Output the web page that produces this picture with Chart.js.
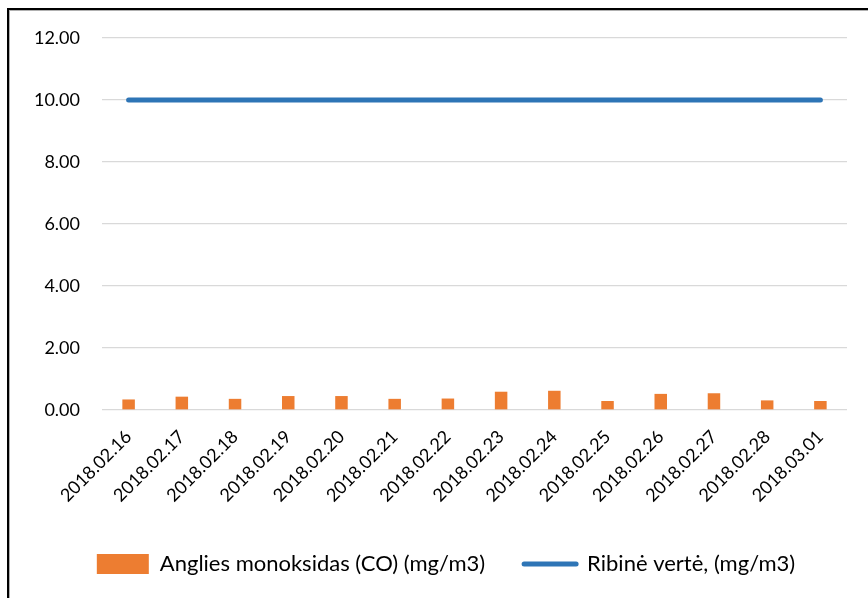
<!DOCTYPE html>
<html>
<head>
<meta charset="utf-8">
<script src="https://cdn.jsdelivr.net/npm/chart.js@4.4.1/dist/chart.umd.min.js"></script>
<style>
  html, body { margin: 0; padding: 0; background: #fff; }
  body { width: 868px; height: 598px; position: relative; overflow: hidden; }
  #frame {
    position: absolute; left: 7px; top: 8px; width: 900px; height: 700px;
    border: 2px solid #000; box-shadow: inset 1px 1px 0 #b0b0b0;
  }
  #wrap { position: absolute; left: 0; top: 0; width: 868px; height: 598px; }
</style>
</head>
<body>
<div id="frame"></div>
<div id="wrap"><canvas id="chart"></canvas></div>
<script>
// --- data ---
const dates = ['2018.02.16', '2018.02.17', '2018.02.18', '2018.02.19', '2018.02.20', '2018.02.21', '2018.02.22',
               '2018.02.23', '2018.02.24', '2018.02.25', '2018.02.26', '2018.02.27', '2018.02.28', '2018.03.01'];
const coValues = [0.34, 0.43, 0.36, 0.45, 0.45, 0.36, 0.37, 0.59, 0.62, 0.29, 0.52, 0.54, 0.31, 0.29];
const limitValues = [10, 10, 10, 10, 10, 10, 10, 10, 10, 10, 10, 10, 10, 10];
const yTicks = [0, 2, 4, 6, 8, 10, 12];

const FAMILY = 'Lato, "Open Sans", sans-serif';

// legend sits a bit right of the canvas centre in the original
const legendShift = {
    id: 'legendShift',
    afterLayout(chart) {
        if (chart.legend) chart.legend.left += 45;
    }
};

new Chart(document.getElementById('chart'), {
    data: {
        labels: dates,
        datasets: [
            {
                type: 'bar',
                label: 'Anglies monoksidas (CO) (mg/m3)',
                data: coValues,
                backgroundColor: '#ED7D31',
                categoryPercentage: 1,
                barPercentage: 0.235,
                order: 2
            },
            {
                type: 'line',
                label: 'Ribinė vertė, (mg/m3)',
                data: limitValues,
                borderColor: '#2E75B6',
                borderWidth: 5,
                borderCapStyle: 'round',
                pointRadius: 0,
                fill: false,
                order: 1
            }
        ]
    },
    plugins: [legendShift],
    options: {
        responsive: true,
        maintainAspectRatio: false,
        animation: false,
        layout: { padding: { left: 0, right: 21, top: 38, bottom: 13 } },
        scales: {
            x: {
                grid: { display: false },
                border: { display: false },
                ticks: {
                    color: '#000', font: { family: FAMILY, size: 18 }, autoSkip: false,
                    minRotation: 45, maxRotation: 45, padding: 8
                },
                afterFit(scale) { scale.height = 104; }
            },
            y: {
                min: 0, max: 12,
                grid: { color: '#d9d9d9', lineWidth: 1.3, drawTicks: false },
                border: { display: false },
                afterBuildTicks(scale) { scale.ticks = yTicks.map(v => ({ value: v })); },
                ticks: {
                    color: '#000', font: { family: FAMILY, size: 18 }, padding: 22,
                    callback: v => Number(v).toFixed(2)
                },
                afterFit(scale) { scale.width = 102; }
            }
        },
        plugins: {
            tooltip: { enabled: false },
            legend: {
                position: 'bottom',
                labels: {
                    color: '#000', font: { family: FAMILY, size: 22 },
                    usePointStyle: true, pointStyleWidth: 52, boxHeight: 20, padding: 39,
                    generateLabels(chart) {
                        return chart.data.datasets.map((ds, i) => ({
                            text: ds.label,
                            datasetIndex: i,
                            fillStyle: ds.type === 'bar' ? ds.backgroundColor : ds.borderColor,
                            strokeStyle: ds.type === 'bar' ? ds.backgroundColor : ds.borderColor,
                            lineWidth: ds.type === 'bar' ? 0 : 5,
                            lineCap: 'round',
                            pointStyle: ds.type === 'bar' ? 'rect' : 'line',
                            hidden: false,
                            fontColor: '#000'
                        }));
                    }
                }
            }
        }
    }
});
</script>
</body>
</html>
